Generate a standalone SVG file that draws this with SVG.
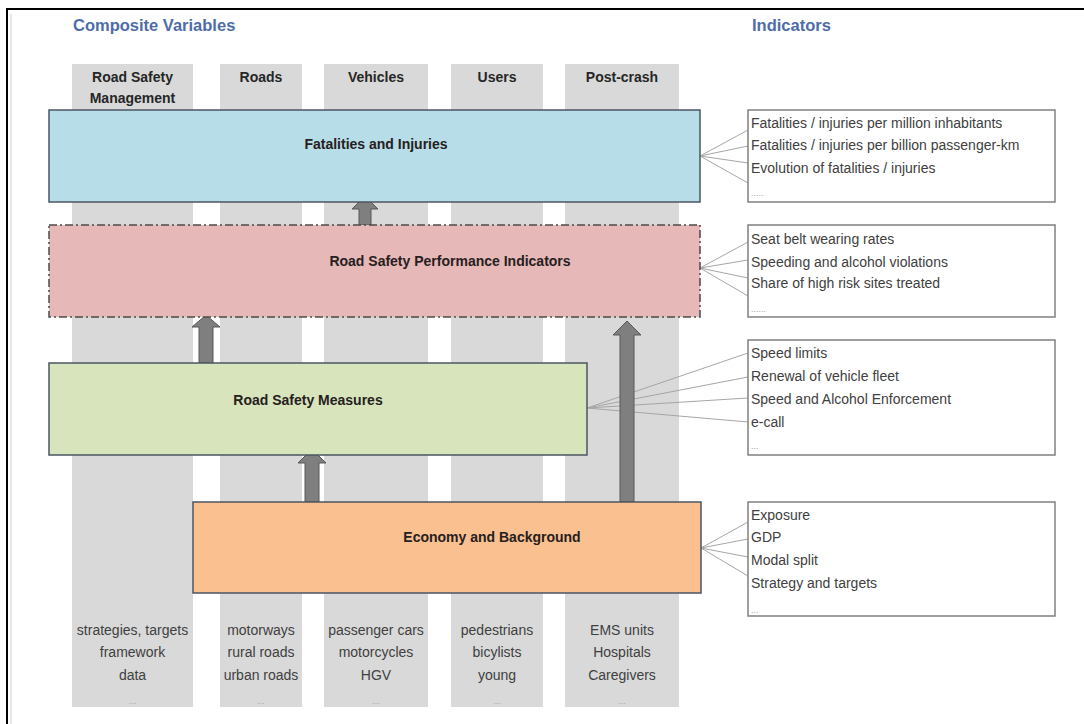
<svg xmlns="http://www.w3.org/2000/svg" width="1084" height="724" viewBox="0 0 1084 724">
<style>
.col{fill:#d9d9d9}
.hdr{font-family:"Liberation Sans",Arial,sans-serif;font-size:14px;font-weight:bold;fill:#262626;text-anchor:middle}
.ttl{font-family:"Liberation Sans",Arial,sans-serif;font-size:16.5px;font-weight:bold;fill:#4e6da8}
.node{stroke:#4b5563;stroke-width:1.5}
.lbl{font-family:"Liberation Sans",Arial,sans-serif;font-size:14px;font-weight:bold;fill:#262020;text-anchor:middle}
.ind{fill:#ffffff;stroke:#808080;stroke-width:1.5}
.it{font-family:"Liberation Sans",Arial,sans-serif;font-size:14px;fill:#404040}
.dots{font-family:"Liberation Sans",Arial,sans-serif;font-size:9px;fill:#a6a6a6}
.bt{font-family:"Liberation Sans",Arial,sans-serif;font-size:14px;fill:#404040;text-anchor:middle}
.fan{stroke:#a6a6a6;stroke-width:1;fill:none}
.arr{fill:#7f7f7f;stroke:#595959;stroke-width:1}
</style>
<rect width="1084" height="724" fill="#ffffff"/>
<path d="M7 724 V9 H1084" fill="none" stroke="#000" stroke-width="2"/>
<line x1="11" y1="14" x2="11" y2="724" stroke="#d0d0d0" stroke-width="1"/>

<g id="titles">
<text class="ttl" x="73" y="31">Composite Variables</text>
<text class="ttl" x="752" y="31">Indicators</text>
</g>

<g id="columns">
<rect class="col" x="72" y="64" width="121" height="643"/>
<rect class="col" x="220" y="64" width="82" height="643"/>
<rect class="col" x="324" y="64" width="104" height="643"/>
<rect class="col" x="451" y="64" width="92" height="643"/>
<rect class="col" x="565" y="64" width="114" height="643"/>
<text class="hdr" x="132.5" y="82">Road Safety</text>
<text class="hdr" x="132.5" y="103">Management</text>
<text class="hdr" x="261" y="82">Roads</text>
<text class="hdr" x="376" y="82">Vehicles</text>
<text class="hdr" x="497" y="82">Users</text>
<text class="hdr" x="622" y="82">Post-crash</text>
<text class="bt" x="132.5" y="635">strategies, targets</text>
<text class="bt" x="132.5" y="657">framework</text>
<text class="bt" x="132.5" y="680">data</text>
<text class="dots" x="132.5" y="704" text-anchor="middle">...</text>
<text class="bt" x="261" y="635">motorways</text>
<text class="bt" x="261" y="657">rural roads</text>
<text class="bt" x="261" y="680">urban roads</text>
<text class="dots" x="261" y="704" text-anchor="middle">...</text>
<text class="bt" x="376" y="635">passenger cars</text>
<text class="bt" x="376" y="657">motorcycles</text>
<text class="bt" x="376" y="680">HGV</text>
<text class="dots" x="376" y="704" text-anchor="middle">...</text>
<text class="bt" x="497" y="635">pedestrians</text>
<text class="bt" x="497" y="657">bicylists</text>
<text class="bt" x="497" y="680">young</text>
<text class="dots" x="497" y="704" text-anchor="middle">...</text>
<text class="bt" x="622" y="635">EMS units</text>
<text class="bt" x="622" y="657">Hospitals</text>
<text class="bt" x="622" y="680">Caregivers</text>
<text class="dots" x="622" y="704" text-anchor="middle">...</text>
</g>

<g id="connectors">
<path class="fan" d="M700 156 L748 130 M700 156 L748 146 M700 156 L748 163 M700 156 L748 183"/>
<path class="fan" d="M700 268 L748 242 M700 268 L748 260 M700 268 L748 278 M700 268 L748 296"/>
<path class="fan" d="M587 408 L748 353 M587 408 L748 377 M587 408 L748 398 M587 408 L748 422"/>
<path class="fan" d="M701 548 L748 522 M701 548 L748 539 M701 548 L748 557 M701 548 L748 576"/>
<path class="arr" d="M359 225 V209 H352 L365 196 L378 209 H371 V225 Z"/>
<path class="arr" d="M199 363 V327 H192 L206 315 L220 327 H213 V363 Z"/>
<path class="arr" d="M305 502 V463 H298 L312 449 L326 463 H319 V502 Z"/>
<path class="arr" d="M620 502 V335 H613 L627 321 L641 335 H634 V502 Z"/>
</g>

<g id="node-fatalities">
<rect class="node" x="49" y="110" width="651" height="92" fill="#b7dde8"/>
<text class="lbl" x="376" y="149">Fatalities and Injuries</text>
</g>
<g id="node-rspi">
<rect x="49" y="225" width="651" height="92" fill="#e6b8b7" stroke="#4b4b4b" stroke-width="1.5" stroke-dasharray="8 3 2 3"/>
<text class="lbl" x="450" y="266">Road Safety Performance Indicators</text>
</g>
<g id="node-measures">
<rect class="node" x="49" y="363" width="538" height="92" fill="#d8e4bc"/>
<text class="lbl" x="308" y="405">Road Safety Measures</text>
</g>
<g id="node-economy">
<rect class="node" x="193" y="502" width="508" height="91" fill="#fac090"/>
<text class="lbl" x="492" y="542">Economy and Background</text>
</g>

<g id="ind-fatalities">
<rect class="ind" x="748" y="110" width="307" height="92"/>
<text class="it" x="751" y="128">Fatalities / injuries per million inhabitants</text>
<text class="it" x="751" y="150">Fatalities / injuries per billion passenger-km</text>
<text class="it" x="751" y="173">Evolution of fatalities / injuries</text>
<text class="dots" x="751" y="196">.....</text>
</g>
<g id="ind-rspi">
<rect class="ind" x="748" y="225" width="307" height="92"/>
<text class="it" x="751" y="244">Seat belt wearing rates</text>
<text class="it" x="751" y="267">Speeding and alcohol violations</text>
<text class="it" x="751" y="288">Share of high risk sites treated</text>
<text class="dots" x="751" y="312">......</text>
</g>
<g id="ind-measures">
<rect class="ind" x="748" y="340" width="307" height="115"/>
<text class="it" x="751" y="358">Speed limits</text>
<text class="it" x="751" y="381">Renewal of vehicle fleet</text>
<text class="it" x="751" y="404">Speed and Alcohol Enforcement</text>
<text class="it" x="751" y="427">e-call</text>
<text class="dots" x="751" y="449">...</text>
</g>
<g id="ind-economy">
<rect class="ind" x="748" y="502" width="307" height="114"/>
<text class="it" x="751" y="520">Exposure</text>
<text class="it" x="751" y="542">GDP</text>
<text class="it" x="751" y="565">Modal split</text>
<text class="it" x="751" y="588">Strategy and targets</text>
<text class="dots" x="751" y="613">...</text>
</g>
</svg>
